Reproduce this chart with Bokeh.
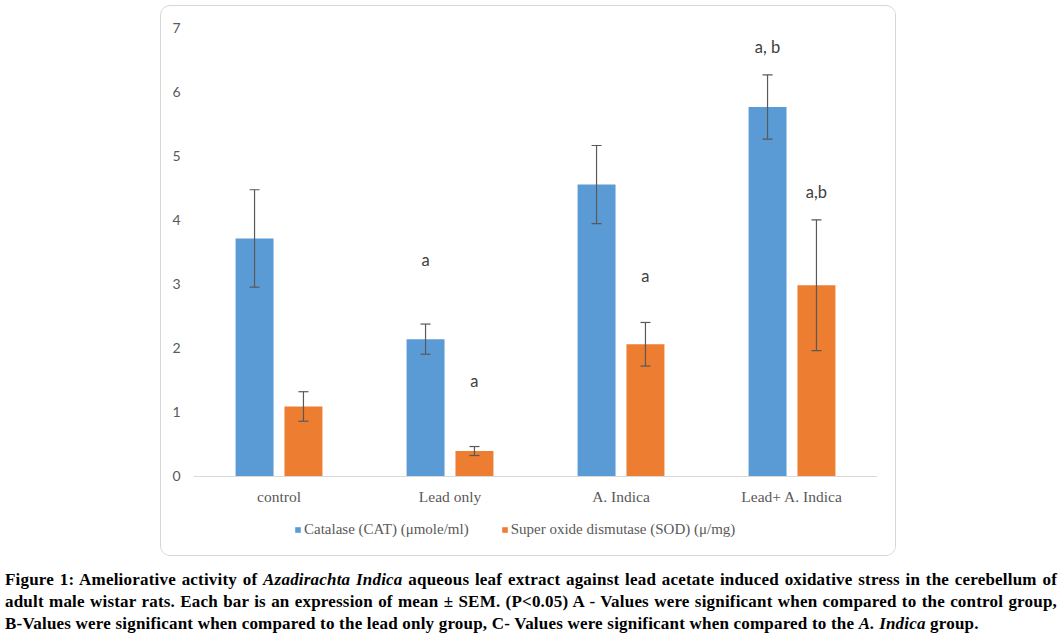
from bokeh.plotting import figure
from bokeh.models import (ColumnDataSource, FactorRange, Range1d, Whisker, Legend,
                          LegendItem, Div)
from bokeh.transform import dodge
from bokeh.layouts import column
from bokeh.embed import file_html
from bokeh.resources import INLINE
from bokeh.core.properties import value

# ---------------- data ----------------
groups = ["control", "Lead only", "A. Indica", "Lead+ A. Indica"]
cat_mean = [3.71, 2.14, 4.55, 5.76]
cat_sem = [0.76, 0.235, 0.61, 0.50]
sod_mean = [1.09, 0.395, 2.06, 2.98]
sod_sem = [0.23, 0.07, 0.34, 1.02]
cat_sig = ["", "a", "", "a, b"]
cat_sig_y = [0, 3.38, 0, 6.69]
sod_sig = ["", "a", "a", "a,b"]
sod_sig_y = [0, 1.49, 3.12, 4.44]
y_ticks = [0, 1, 2, 3, 4, 5, 6, 7]
series_labels = ["Catalase (CAT) (\u03bcmole/ml)", "Super oxide dismutase (SOD) (\u03bc/mg)"]

caption_lines = [
    "Figure 1: Ameliorative activity of <i>Azadirachta Indica</i> aqueous leaf extract against lead acetate induced oxidative stress in the cerebellum of",
    "adult male wistar rats. Each bar is an expression of mean \u00b1 SEM. (P&lt;0.05) A - Values were significant when compared to the control group,",
    "B-Values were significant when compared to the lead only group, C- Values were significant when compared to the <i>A. Indica</i> group.",
]

BLUE = "#5B9BD5"
ORANGE = "#ED7D31"
GREY = "#595959"

src = ColumnDataSource(dict(
    group=groups,
    cat=cat_mean,
    cat_lo=[m - s for m, s in zip(cat_mean, cat_sem)],
    cat_hi=[m + s for m, s in zip(cat_mean, cat_sem)],
    sod=sod_mean,
    sod_lo=[m - s for m, s in zip(sod_mean, sod_sem)],
    sod_hi=[m + s for m, s in zip(sod_mean, sod_sem)],
))

cat_lab = ColumnDataSource(dict(
    group=[g for g, t in zip(groups, cat_sig) if t],
    y=[y for y, t in zip(cat_sig_y, cat_sig) if t],
    text=[t for t in cat_sig if t],
))
sod_lab = ColumnDataSource(dict(
    group=[g for g, t in zip(groups, sod_sig) if t],
    y=[y for y, t in zip(sod_sig_y, sod_sig) if t],
    text=[t for t in sod_sig if t],
))

# frame spans from y=7 (top) down past the x-axis, so the legend can sit inside it
p = figure(x_range=FactorRange(factors=groups, range_padding=0), y_range=Range1d(-1.25, 7),
           width=736, height=551, output_backend="svg", toolbar_location=None,
           min_border_left=32, min_border_right=20, min_border_top=21, min_border_bottom=1,
           margin=(5, 0, 0, 160),
           styles={"border": "1px solid #d6d6d6", "border-radius": "10px", "overflow": "hidden"})
p.outline_line_color = None
p.xgrid.visible = False
p.ygrid.visible = False
p.background_fill_color = "white"
p.border_fill_color = "white"

OFF = 0.143
BW = 0.222

r1 = p.vbar(x=dodge("group", -OFF, range=p.x_range), top="cat", width=BW, source=src,
            fill_color=BLUE, line_color=None)
r2 = p.vbar(x=dodge("group", OFF, range=p.x_range), top="sod", width=BW, source=src,
            fill_color=ORANGE, line_color=None)

for base, lo, hi in [(dodge("group", -OFF, range=p.x_range), "cat_lo", "cat_hi"),
                     (dodge("group", OFF, range=p.x_range), "sod_lo", "sod_hi")]:
    w = Whisker(source=src, base=base, lower=lo, upper=hi, line_color=GREY, line_width=1.2,
                level="annotation")
    for h in (w.upper_head, w.lower_head):
        h.size = 10
        h.line_color = GREY
        h.line_width = 1.2
    p.add_layout(w)

for s, off in [(cat_lab, -OFF), (sod_lab, OFF)]:
    p.text(x=dodge("group", off, range=p.x_range), y="y", text="text", source=s,
           text_align="center", text_baseline="middle", text_font=value("Lato"),
           text_font_size="16.5px", text_color="#404040")

# axes
p.yaxis.ticker = y_ticks
p.yaxis.axis_line_color = None
p.yaxis.major_tick_line_color = None
p.yaxis.minor_tick_line_color = None
p.yaxis.major_tick_out = 0
p.yaxis.major_label_standoff = 13
p.yaxis.major_label_text_font = "Lato"
p.yaxis.major_label_text_font_size = "14px"
p.yaxis.major_label_text_color = GREY

p.xaxis.fixed_location = 0
p.xaxis.axis_line_color = "#d9d9d9"
p.xaxis.axis_line_width = 1
p.xaxis.major_tick_line_color = None
p.xaxis.major_tick_out = 0
p.xaxis.major_label_standoff = 12
p.xaxis.major_label_text_font = "Liberation Serif"
p.xaxis.major_label_text_font_size = "15.5px"
p.xaxis.major_label_text_color = GREY

legend = Legend(items=[LegendItem(label=series_labels[0], renderers=[r1]),
                       LegendItem(label=series_labels[1], renderers=[r2])],
                orientation="horizontal", location=(101, 18),
                glyph_width=7, glyph_height=7, label_standoff=3, spacing=32,
                padding=0, margin=0, border_line_color=None, background_fill_alpha=0,
                label_text_font="Liberation Serif", label_text_font_size="15px",
                label_text_color=GREY, label_height=14)
p.add_layout(legend, "center")

style = ("font-family:'Liberation Serif',serif;font-weight:bold;font-size:17px;"
         "letter-spacing:0.2px;line-height:22px;color:#000;white-space:nowrap;")
html = ""
for i, ln in enumerate(caption_lines):
    extra = "text-align:justify;text-align-last:justify;" if i < 2 else "text-align:left;"
    html += f'<div style="{style}{extra}width:1052px;">{ln}</div>'
cap = Div(text=html, width=1052, height=66, margin=(13, 0, 0, 5))

layout = column(p, cap, spacing=0)
open("out.html", "w").write(file_html(layout, INLINE))
